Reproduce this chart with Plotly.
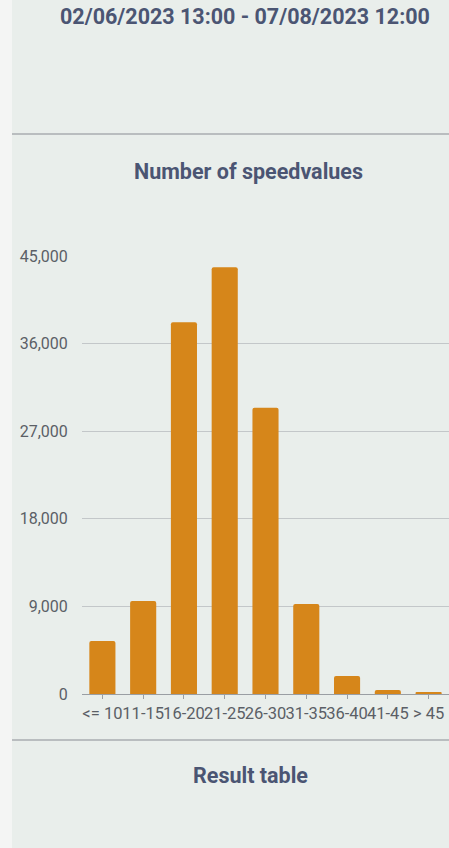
import plotly.graph_objects as go

categories = ["<= 10", "11-15", "16-20", "21-25", "26-30", "31-35", "36-40", "41-45", "> 45"]
counts = [5450, 9550, 38200, 43850, 29400, 9250, 1850, 400, 150]
y_ticks = [0, 9000, 18000, 27000, 36000, 45000]

header_text = "02/06/2023 13:00 - 07/08/2023 12:00"
chart_title = "Number of speedvalues"
footer_text = "Result table"

W, H = 449, 848
L, R, T, B = 82, 0, 256, 154
PW = W - L - R
PH = H - T - B

def py(px):
    return (H - B - px) / PH

def pxx(px):
    return (px - L) / PW

title_color = "#4b5573"
tick_color = "#5b5f66"

fig = go.Figure(go.Bar(
    x=categories, y=counts,
    marker=dict(color="#d6861a", line=dict(width=0)),
    width=0.64,
))

fig.update_layout(
    width=W, height=H,
    margin=dict(l=L, r=R, t=T, b=B),
    paper_bgcolor="#e9eeeb",
    plot_bgcolor="rgba(0,0,0,0)",
    showlegend=False,
    barcornerradius=2,
    font=dict(family="Roboto", color=tick_color, size=16),
    xaxis=dict(
        type="category", tickangle=0, showgrid=False,
        showline=True, linecolor="#9a9ea3", linewidth=1,
        ticks="outside", ticklen=4, tickcolor="#9a9ea3",
        tickfont=dict(size=16.5, color=tick_color),
        fixedrange=True,
    ),
    yaxis=dict(
        range=[0, 45000], tickvals=y_ticks, tickformat=",",
        showgrid=True, gridcolor="#c3c7c9", gridwidth=1,
        zeroline=False, showline=False,
        ticks="outside", ticklen=10, tickcolor="rgba(0,0,0,0)",
        tickfont=dict(size=16, color=tick_color),
        fixedrange=True,
    ),
    shapes=[
        dict(type="rect", xref="paper", yref="paper", x0=pxx(0), x1=pxx(12), y0=py(H), y1=py(0),
             fillcolor="#f4f5f4", line=dict(width=0), layer="below"),
        dict(type="line", xref="paper", yref="paper", x0=pxx(12), x1=1, y0=py(134), y1=py(134),
             line=dict(color="#a9adb1", width=1.5)),
        dict(type="line", xref="paper", yref="paper", x0=pxx(12), x1=1, y0=py(740), y1=py(740),
             line=dict(color="#a9adb1", width=1.5)),
    ],
    annotations=[
        dict(text="<b>" + header_text + "</b>", xref="paper", yref="paper", x=pxx(245), y=py(16),
             showarrow=False, xanchor="center", yanchor="middle",
             font=dict(family="Roboto", size=21.5, color=title_color)),
        dict(text="<b>" + chart_title + "</b>", xref="paper", yref="paper", x=pxx(248), y=py(171),
             showarrow=False, xanchor="center", yanchor="middle",
             font=dict(family="Roboto", size=21.5, color=title_color)),
        dict(text="<b>" + footer_text + "</b>", xref="paper", yref="paper", x=pxx(250), y=py(775),
             showarrow=False, xanchor="center", yanchor="middle",
             font=dict(family="Roboto", size=21.5, color=title_color)),
    ],
)

fig.write_html("out.html", config={"displayModeBar": False},
               post_script=["document.body.style.margin='0';document.body.style.overflow='hidden';"])
